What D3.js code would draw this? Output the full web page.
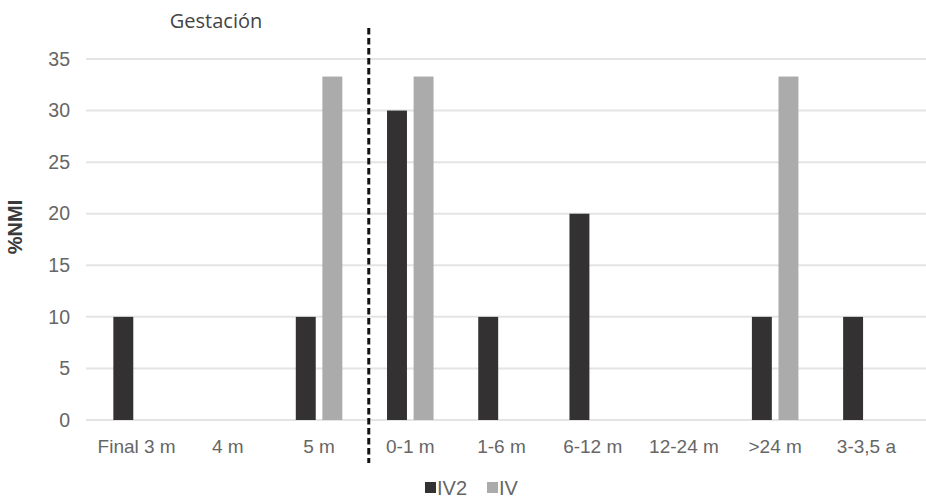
<!DOCTYPE html>
<html><head><meta charset="utf-8">
<script src="https://cdn.jsdelivr.net/npm/d3@7"></script>
<style>body{margin:0;background:#fff;}svg{display:block;font-family:"Open Sans",Arial,sans-serif;}</style>
</head><body><svg id="c" width="926" height="499"></svg>
<script>
const categories = ["Final 3 m","4 m","5 m","0-1 m","1-6 m","6-12 m","12-24 m",">24 m","3-3,5 a"];
const seriesNames = ["IV2","IV"];
const iv2Values = [10,0,10,30,10,20,0,10,10];
const ivValues = [0,0,33.3,33.3,0,0,0,33.3,0];
const yTicks = [0,5,10,15,20,25,30,35];
const colors = {IV2:"#333132", IV:"#ababab"};

const svg = d3.select("#c");
const x0 = 91, x1 = 912, yTop = 59, yBot = 420;
const x = d3.scaleBand().domain(categories).range([x0,x1]).paddingInner(0.49).paddingOuter(0.245);
const xs = d3.scaleBand().domain(seriesNames).range([0,x.bandwidth()]).paddingInner(0.25);
const y = d3.scaleLinear().domain([0,35]).range([yBot,yTop]);
const sans = "Arial,'Liberation Sans',sans-serif";

// gridlines
svg.append("g").selectAll("line").data(yTicks).join("line")
  .attr("x1",86).attr("x2",926).attr("y1",d=>y(d)).attr("y2",d=>y(d))
  .attr("stroke","#e4e4e4").attr("stroke-width",2);

// y axis labels
const yAxis = d3.axisLeft(y).tickValues(yTicks).tickSize(0).tickPadding(0);
const ya = svg.append("g").attr("transform","translate(70,0)").call(yAxis);
ya.select(".domain").remove();
ya.selectAll("text").attr("font-size",19.5).attr("fill","#666").attr("font-family",sans);

// x axis labels
const xAxis = d3.axisBottom(x).tickSize(0).tickPadding(0);
const xa = svg.append("g").attr("transform","translate(0,439)").call(xAxis);
xa.select(".domain").remove();
xa.selectAll("text").attr("font-size",19).attr("fill","#666").attr("font-family",sans);

// bars
const rows = categories.map((c,i)=>({cat:c, vals:[{s:"IV2",v:iv2Values[i]},{s:"IV",v:ivValues[i]}]}));
const g = svg.append("g").selectAll("g").data(rows).join("g").attr("transform",d=>`translate(${x(d.cat)},0)`);
g.selectAll("rect").data(d=>d.vals.filter(e=>e.v>0)).join("rect")
  .attr("x",d=>xs(d.s)).attr("width",xs.bandwidth())
  .attr("y",d=>y(d.v)).attr("height",d=>y(0)-y(d.v))
  .attr("fill",d=>colors[d.s]);

// dashed divider between 5 m and 0-1 m
const divX = x("0-1 m") - x.step()*0.2;
svg.append("line").attr("x1",divX).attr("x2",divX).attr("y1",28).attr("y2",463)
  .attr("stroke","#111").attr("stroke-width",3).attr("stroke-dasharray","6.5,3.5");

// Gestación label
svg.append("text").attr("x",216).attr("y",28).attr("text-anchor","middle")
  .attr("font-size",20).attr("fill","#444").text("Gestación");

// y title
svg.append("text").attr("transform","translate(22,227) rotate(-90)").attr("text-anchor","middle")
  .attr("font-size",20).attr("font-weight","bold").attr("fill","#3a3a3a").attr("font-family",sans).text("%NMI");

// legend
const leg = svg.append("g");
const legItems = [{s:"IV2",x:425},{s:"IV",x:487}];
legItems.forEach(it=>{
  leg.append("rect").attr("x",it.x).attr("y",482).attr("width",11).attr("height",11).attr("fill",colors[it.s]);
  leg.append("text").attr("x",it.x+12).attr("y",495).attr("font-size",20).attr("fill","#666")
    .attr("font-family",sans).text(it.s);
});
</script></body></html>
